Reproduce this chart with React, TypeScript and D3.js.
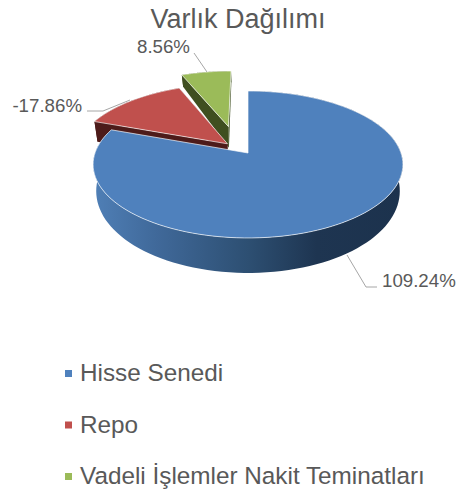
import React from "react";
import * as d3 from "d3";

const title = "Varlık Dağılımı";
const categories = ["Hisse Senedi", "Repo", "Vadeli İşlemler Nakit Teminatları"];
const values = [109.24, -17.86, 8.56];
const labels = ["109.24%", "-17.86%", "8.56%"];
const colors = ["#4f81bd", "#c0504d", "#9bbb59"];
const wallColors = ["#2f5173", "#4d1b1a", "#3f4f20"];

const W = 458, H = 492;
const font = "'Liberation Sans', Arial, sans-serif";
const textColor = "#595959";
const leaderColor = "#a6a6a6";

// perspective projection of the pie's ground plane
const cx = 248, cy0 = 153, R = 153, HH = 71.7, K = 0.156;
const explode: [number, number][] = [[0, 0], [-0.137, 0.131], [-0.135, 0.39]];
const project = (X: number, Z: number) => {
  const w = 1 + K * Z;
  return { x: cx + (R * X) / w, y: cy0 - (HH * Z) / w, w };
};
const depth = (w: number) => 35 - 64 * (w - 0.844);
const lower = (X: number, Z: number) => {
  const p = project(X, Z);
  return { x: cx + (p.x - cx) * 0.98, y: p.y + depth(p.w) };
};

const pie = d3.pie<number>().value((d) => Math.abs(d)).sort(null);
const arcs = pie(values);

const sampleAngles = (a0: number, a1: number) =>
  d3.range(0, 121).map((i) => a0 + ((a1 - a0) * i) / 120);

const line = d3.line<{ x: number; y: number }>().x((d) => d.x).y((d) => d.y);

const slicePaths = arcs.map((a, i) => {
  const [dx, dz] = explode[i];
  const rim = sampleAngles(a.startAngle, a.endAngle).map((t) => ({
    X: Math.sin(t) + dx,
    Z: Math.cos(t) + dz,
  }));
  const top = [project(dx, dz), ...rim.map((p) => project(p.X, p.Z))];
  const s = rim[0];
  const e = rim[rim.length - 1];
  const wall = (pts: { X: number; Z: number }[]) =>
    line([...pts.map((p) => project(p.X, p.Z)), ...pts.slice().reverse().map((p) => lower(p.X, p.Z))]) + "Z";
  const center = { X: dx, Z: dz };
  return {
    top: line(top) + "Z",
    rimWall: wall(rim),
    startWall: wall([center, s]),
    endWall: wall([center, e]),
  };
});

const xBlue = d3.scaleLinear().domain([0, 1]).range([94, 403]);

// leader polylines and label placement
const layout = [
  { text: [382, 287], anchor: "start", pts: [[347, 255], [366, 287], [377, 287]] },
  { text: [82, 112], anchor: "end", pts: [[130, 100], [103, 111], [87, 111]] },
  { text: [190, 53], anchor: "end", pts: [[207, 72], [194, 53]] },
];

const legendY = d3.scalePoint<string>().domain(categories).range([373, 476]);

export default function App() {
  return (
    <svg
      width={W}
      height={H}
      style={{ position: "absolute", left: 0, top: 0, background: "#fff" }}
      fontFamily={font}
    >
      <defs>
        <linearGradient id="blueWall" gradientUnits="userSpaceOnUse" x1={xBlue(0)} x2={xBlue(1)} y1={0} y2={0}>
          <stop offset="0" stopColor="#4f7fb6" />
          <stop offset="0.2" stopColor="#40699a" />
          <stop offset="0.5" stopColor="#2d4f72" />
          <stop offset="0.72" stopColor="#1e3551" />
          <stop offset="1" stopColor="#1c324d" />
        </linearGradient>
      </defs>

      <text x={238} y={28} textAnchor="middle" fontSize={27} fill={textColor}>{title}</text>

      {/* draw back to front: green, red, blue */}
      {[2, 1, 0].map((i) => (
        <g key={categories[i]}>
          <path d={slicePaths[i].rimWall} fill={i === 0 ? "url(#blueWall)" : wallColors[i]} />
          {i !== 0 && <path d={slicePaths[i].startWall} fill={wallColors[i]} />}
          {i !== 0 && <path d={slicePaths[i].endWall} fill={wallColors[i]} />}
          <path d={slicePaths[i].top} fill={colors[i]} stroke="#ffffff" strokeOpacity={0.65} strokeWidth={1} strokeLinejoin="round" />
        </g>
      ))}

      {layout.map((l, i) => (
        <g key={labels[i]}>
          <path d={line(l.pts.map(([x, y]) => ({ x, y })))!} fill="none" stroke={leaderColor} strokeWidth={1} />
          <text x={l.text[0]} y={l.text[1]} textAnchor={l.anchor as "start" | "end"} fontSize={18.7} fill={textColor}>
            {labels[i]}
          </text>
        </g>
      ))}

      {categories.map((c, i) => (
        <g key={c}>
          <rect x={65} y={legendY(c)! - 3} width={7} height={7} fill={colors[i]} />
          <text x={80} y={legendY(c)! + 8} fontSize={24.3} fill={textColor}>{c}</text>
        </g>
      ))}
    </svg>
  );
}
